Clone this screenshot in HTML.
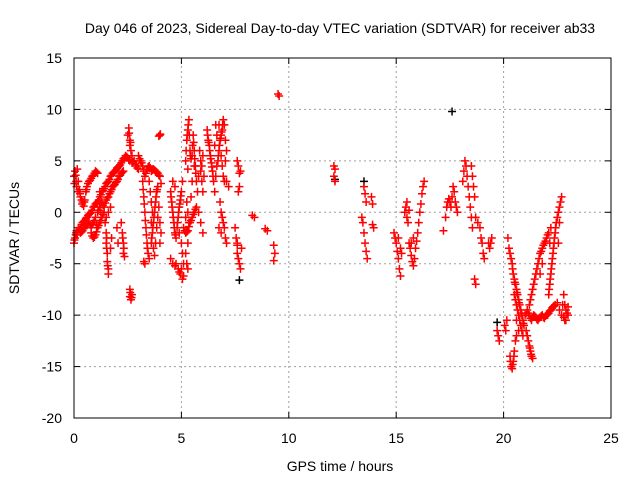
<!DOCTYPE html>
<html><head><meta charset="utf-8"><style>
body{margin:0;background:#fff;}
svg{display:block;font-family:"Liberation Sans",sans-serif;}
</style></head><body>
<svg id="chart" width="640" height="480">
<text x="340" y="33" text-anchor="middle" font-size="14">Day 046 of 2023, Sidereal Day-to-day VTEC variation (SDTVAR) for receiver ab33</text>
<text x="340" y="471" text-anchor="middle" font-size="14">GPS time / hours</text>
<text transform="translate(19,238) rotate(-90)" text-anchor="middle" font-size="14">SDTVAR / TECUs</text>
<g id="grid"></g><g id="ticks"></g><g id="marks"></g>
<rect x="74" y="58" width="537" height="360" fill="none" stroke="#000" stroke-width="1"/>
</svg>
<script>
const xTicks=[0,5,10,15,20,25];
const yTicks=[-20,-15,-10,-5,0,5,10,15];
const redPoints=[
[0,3.5],[0.05,4],[0.1,3],[0.15,4.2],[0.2,3],[0.25,2.2],[0.3,1.5],[0.35,1.2],[0.4,1],[0.45,0.6],[0.5,1.2],[0.55,2],[0.6,2.5],[0.7,3],[0.8,3.3],[0.9,3.6],[1.0,4],[1.1,3.8],[1.2,2],[1.25,0],
[0.02,2.8],[0.08,3.6],[0.12,2.5],[0.18,2],[0.28,1.8],[0.38,0.8],[0.48,1],[0.58,2.2],[0.65,2.8],[0.75,3.1],[0.85,3.5],[0.95,3.8],[1.05,3.9],
[0,-3],[0.05,-2.5],[0.1,-2],[0.15,-2.2],[0.2,-1.5],[0.3,-1.5],[0.4,-1],[0.5,-0.8],[0.6,-0.5],[0.7,-0.2],[0.8,0],[0.9,0.5],[1.0,0.8],[1.1,1],[1.2,1.5],[1.3,2],[1.4,2.3],[1.5,2.8],[1.6,3],[1.7,3.5],[1.8,3.8],[1.9,4],[2.0,4.3],[2.1,4.5],[2.2,4.8],[2.3,5.2],[2.4,5.5],[2.5,5.3],[2.6,5],[2.7,4.8],[2.8,5],[2.9,4.5],[3.0,4.2],
[0.02,-2.7],[0.08,-2.2],[0.12,-1.8],[0.25,-1.7],[0.35,-1.2],[0.45,-0.9],[0.55,-0.6],[0.65,-0.3],[0.75,-0.1],[0.85,0.2],[0.95,0.6],[1.05,0.9],[1.15,1.2],[1.25,1.7],[1.35,2.1],[1.45,2.5],[1.55,2.9],[1.65,3.2],[1.75,3.6],[1.85,3.9],[1.95,4.1],[2.05,4.4],[2.15,4.6],[2.25,5],[2.35,5.3],[2.45,5.4],[2.55,5.1],[2.75,4.9],[2.85,4.7],[2.95,4.3],
[0.3,-2],[0.4,-1.8],[0.5,-1.5],[0.6,-1.2],[0.7,-1],[0.8,-1.5],[0.9,-1],[1.0,-0.5],[1.05,-1.2],[1.1,0],[1.2,0.5],[1.3,1],[1.4,0.5],[1.5,1.2],[1.6,1.5],[1.7,2],[1.8,2.5],[1.9,2.7],[2.0,3],[2.1,3.5],[2.2,3.8],[2.3,4],
[0.35,-1.9],[0.45,-1.6],[0.55,-1.3],[0.65,-1.1],[0.75,-1.2],[0.85,-1.2],[0.95,-0.8],[1.15,0.2],[1.25,0.8],[1.35,0.7],[1.45,0.9],[1.55,1.4],[1.65,1.8],[1.75,2.2],[1.85,2.6],[1.95,2.9],[2.05,3.2],[2.15,3.6],[2.25,3.9],
[0.8,-2],[0.9,-2.5],[1.0,-2.2],[1.1,-1.5],[1.2,-1],[1.3,-0.5],[1.4,0],[1.5,-0.5],[1.6,0],[1.7,0.5],[0.85,-2.3],[0.95,-2.4],[1.05,-1.9],[1.15,-1.3],[1.25,-0.8],[1.35,-0.2],
[1.45,-1],[1.5,-2],[1.5,-3],[1.55,-4],[1.55,-4.8],[1.6,-5.5],[1.6,-6],[1.7,-3.5],[1.75,-2.5],[1.52,-2.5],[1.52,-3.5],[1.57,-5.2],
[2.2,-1],[2.25,-2],[2.3,-3],[2.3,-4],[2.35,-4.3],[2.0,-1.5],[2.05,-3],[2.27,-2.5],[2.32,-3.5],
[2.6,-7.5],[2.6,-8.2],[2.65,-8.5],[2.7,-8],[2.62,-7.8],[2.68,-8.3],
[2.5,7.5],[2.55,8.2],[2.6,7],[2.65,6],[2.7,5.5],[2.6,6.5],[2.57,7.7],[2.63,6.8],
[3.0,5.5],[3.1,5],[3.2,4.5],[3.3,3.5],[3.4,4.2],[3.5,4.5],[3.6,4],[3.7,4.2],[3.8,4],[3.9,3.8],[4.0,3.5],[4.05,2.8],
[3.05,5.2],[3.15,4.8],[3.25,4],[3.35,3.8],[3.45,4.4],[3.55,4.3],[3.65,4.1],[3.75,4.1],[3.85,3.9],[3.95,3.6],
[3.2,3],[3.25,1.5],[3.3,0],[3.35,-1.5],[3.4,-3],[3.45,-4],[3.5,-4.5],[3.3,-5],[3.25,-4.8],[3.22,2.2],[3.27,0.8],[3.32,-0.8],[3.37,-2.2],[3.42,-3.5],
[3.6,-3],[3.65,-2],[3.7,-1],[3.75,0],[3.8,1],[3.85,2],[3.9,2.5],[3.7,-3.5],[3.75,-4.2],[3.8,-3],[3.85,-1.5],[3.9,-0.5],[3.95,0.5],[4.0,-1],[4.05,-2],[4.0,-3],
[3.62,-2.5],[3.67,-1.5],[3.72,-0.5],[3.77,0.5],[3.82,1.5],[3.87,2.2],
[3.5,3],[3.55,2],[3.6,1],[3.65,0],[3.6,-1],
[4.0,7.5],[3.95,7.4],[4.02,7.6],
[4.5,2],[4.55,1],[4.6,0],[4.65,-1],[4.7,-2],[4.75,-2.5],[4.8,-1.5],[4.85,-0.5],[4.9,0.5],[4.95,1.2],[5.0,2],[5.05,3],[4.6,3],[4.7,2.5],
[4.52,1.5],[4.57,0.5],[4.62,-0.5],[4.67,-1.5],[4.72,-2.2],[4.82,-1],[4.87,0],[4.92,0.8],[4.97,1.6],
[4.9,-2],[5.0,-3],[5.05,-4],[5.1,-5],[5.0,-5.5],[4.85,-5.5],[4.75,-5],[4.6,-5],[4.5,-4.5],[4.95,-6],[5.05,-6.5],[5.1,-6.2],[4.9,-5.8],[4.7,-5.2],
[5.1,-1.5],[5.2,-2],[5.3,-1.8],[5.4,-1],[5.5,-0.5],[5.6,0],[5.7,0.5],[5.8,0],[5.9,-1],[6.0,-2],[5.3,-3],[5.2,-4],[5.25,-5],[5.3,-5.5],
[5.15,-1.8],[5.25,-1.9],[5.35,-1.4],[5.45,-0.8],[5.55,-0.2],[5.65,0.3],
[5.2,-0.5],[5.25,1],[5.3,0],[5.35,-1],[5.45,1.5],
[5.2,5],[5.25,7],[5.3,8],[5.35,9],[5.4,6],[5.45,5.2],[5.5,5.5],[5.55,7.5],[5.6,6],[5.65,4.5],[5.7,3],[5.75,2],[5.8,3.5],[5.9,4],[5.95,3],[6.0,2],[5.5,3],[5.6,4.5],[5.3,4.2],
[5.22,6],[5.27,7.5],[5.32,8.5],[5.37,7.5],[5.42,5.5],[5.52,6.5],[5.57,6.8],[5.62,5.2],[5.67,3.8],
[5.85,6],[5.9,5],[5.95,4.5],[6.0,5.5],[6.05,3.5],
[6.2,8],[6.25,7],[6.3,6.5],[6.35,5.5],[6.4,4.8],[6.45,4],[6.5,3],[6.55,2],[6.6,3.5],[6.65,4.5],[6.7,5],[6.75,6],[6.8,7],[6.85,7.5],[6.9,8],[6.95,9],[7.0,8.5],[7.05,7],[7.1,6],
[6.22,7.5],[6.27,6.8],[6.32,6],[6.37,5.2],[6.42,4.4],[6.47,3.5],[6.72,5.5],[6.77,6.5],[6.82,7.2],[6.87,7.8],[6.92,8.5],
[6.6,8.5],[6.65,7.5],[6.55,6.5],[6.75,8.5],[6.85,5.5],[6.9,4.5],[6.95,3.5],[7.0,3],[7.05,5],[7.1,3],[7.2,2.5],
[6.8,1],[6.85,0],[6.9,-0.5],[6.95,-1],[7.0,-1.5],[7.05,-2.5],[7.1,-3],[6.75,-1.5],[6.85,-2],
[7.6,5],[7.65,4.5],[7.7,3.8],[7.7,2.5],[7.65,2],[7.75,4],
[7.5,-1.5],[7.55,-2.5],[7.6,-3],[7.6,-4],[7.65,-4.5],[7.7,-5],[7.75,-5.5],[7.8,-3.5],[7.6,-3.2],
[8.3,-0.3],[8.4,-0.5],[8.9,-1.6],[9.0,-1.8],[9.3,-3.2],[9.35,-4],[9.3,-4.7],[9.5,11.5],[9.55,11.3],
[12.1,3.5],[12.15,4.2],[12.1,4.5],[12.15,3],[13.4,-0.5],[13.45,-1],[13.5,-2],[13.55,-3],[13.6,-3.8],[13.65,-4.5],[13.5,2.5],[13.55,1.8],[13.6,1],[13.9,-1.2],[13.95,-1.5],[13.85,1.5],[13.9,0.8],
[14.9,-2],[14.95,-2.5],[15.0,-3],[15.05,-3.8],[15.1,-4.5],[15.15,-5.5],[15.2,-6.2],[15.1,-2.5],[15.2,-3.5],[15.25,-4],
[15.4,0],[15.45,0.5],[15.5,-0.5],[15.55,-1],[15.6,0.2],[15.5,1],
[15.6,-3],[15.65,-3.5],[15.7,-4.2],[15.75,-4.8],[15.8,-5.2],[15.85,-4.5],[15.9,-3.5],[15.95,-2.8],[16.0,-2],[16.05,-1],[16.1,0],[16.15,0.8],[16.2,1.8],[16.25,2.5],[16.3,3],[15.8,-2.5],[15.7,-3],
[17.2,-1.8],[17.3,-0.5],[17.35,0.5],[17.4,1],[17.45,1.3],[17.5,1],[17.55,0.5],[17.6,1.5],[17.65,2.5],[17.7,2],[17.75,1],[17.8,0.5],[17.85,0],
[18.1,3],[18.15,4],[18.2,5],[18.25,4.5],[18.3,3.5],[18.35,2.5],[18.4,1.5],[18.45,0.5],[18.5,-0.5],[18.55,-1.5],[18.5,4.5],[18.55,3.5],[18.6,2.5],[18.65,1.5],
[18.7,-0.5],[18.8,-1],[18.9,-1.5],[18.95,-2.5],[19.0,-3],[19.05,-4],[19.1,-4.5],[19.3,-3],[19.35,-3.5],[19.4,-3],[19.45,-2.5],
[18.65,-6.5],[18.7,-7],
[19.7,-11.5],[19.75,-12],[19.8,-12.5],[20.05,-11],[20.1,-11.5],[20.15,-10.5],[20.2,-2.5],
[20.25,-3.5],[20.3,-4],[20.35,-4.5],[20.4,-5],[20.45,-6],[20.5,-6.5],[20.55,-7],[20.6,-7.5],[20.65,-8],[20.7,-8.5],[20.75,-9],[20.8,-9.5],[20.85,-10],[20.9,-10.5],[20.95,-11],[21.0,-10],[21.1,-9.5],[21.2,-10],[21.3,-10.5],[21.4,-10],[21.5,-10.2],[21.6,-10.5],[21.7,-10.2],[21.8,-10],[21.9,-10.3],[22.0,-10],[22.1,-9.8],[22.2,-9.5],[22.3,-9.2],[22.4,-9],[22.5,-8.8],[22.6,-9.5],[22.7,-10],[22.8,-10.2],[22.9,-9.5],
[20.42,-5.5],[20.52,-6.8],[20.62,-7.8],[20.72,-8.8],[20.82,-9.8],[20.92,-10.8],[21.05,-9.8],[21.15,-9.8],[21.25,-10.3],[21.35,-10.2],[21.45,-10.1],[21.55,-10.4],[21.65,-10.3],[21.75,-10.1],[21.85,-10.2],[21.95,-10.1],[22.05,-9.9],[22.15,-9.6],[22.25,-9.3],[22.35,-9.1],
[20.5,-8],[20.6,-9],[20.7,-10],[20.8,-11],[20.9,-12],[20.6,-10.5],[20.7,-11.5],[20.55,-8.5],[20.65,-9.5],[20.75,-10.5],[20.85,-11.5],
[20.3,-14],[20.35,-15],[20.4,-15.2],[20.45,-14.5],[20.5,-13.5],[20.55,-12.5],[20.6,-12],[20.32,-14.5],[20.42,-14.8],[20.48,-14],
[21.05,-11.5],[21.1,-12],[21.15,-12.5],[21.2,-13],[21.25,-13.5],[21.3,-14],[21.35,-14.2],[21.22,-13.2],[21.28,-13.8],
[21.2,-9],[21.3,-8],[21.4,-7],[21.5,-6],[21.6,-5],[21.7,-4],[21.8,-3.5],[21.9,-3],[22.0,-2.5],[22.1,-2],[22.2,-1.5],[22.15,-3],[21.8,-5],[21.7,-6],
[21.25,-8.5],[21.35,-7.5],[21.45,-6.5],[21.55,-5.5],[21.65,-4.5],[21.75,-3.8],[21.85,-3.2],[21.95,-2.8],[22.05,-2.2],
[22.1,-8],[22.15,-7],[22.2,-6],[22.25,-5],[22.3,-4],[22.35,-3],[22.4,-2],[22.45,-1],[22.5,-0.5],[22.55,0],[22.6,0.5],[22.65,1],[22.7,1.5],[22.6,-1],[22.55,-3],
[22.12,-7.5],[22.17,-6.5],[22.22,-5.5],[22.27,-4.5],[22.32,-3.5],[22.37,-2.5],[22.42,-1.5],
[22.8,-8],[22.85,-9],[22.9,-10.5],[23.0,-10],[23.0,-9.2],[22.75,-9],[22.95,-9.8],[22.85,-10.5]
];
const blackPoints=[[17.6,9.8],[7.7,-6.6],[19.7,-10.7],[12.15,3.2],[13.5,3]];

const X0=74,X1=611,Y0=418,Y1=58;
const xScale=h=>X0+(h-0)/25*(X1-X0);
const yScale=v=>Y0-(v+20)/35*(Y0-Y1);
const NS="http://www.w3.org/2000/svg";
const grid=document.getElementById('grid'),ticks=document.getElementById('ticks'),marks=document.getElementById('marks');
function mk(tag,attrs,parent){const e=document.createElementNS(NS,tag);for(const k in attrs)e.setAttribute(k,attrs[k]);parent.appendChild(e);return e;}
xTicks.forEach(t=>{const x=xScale(t);
 if(t>0&&t<25){const g=mk('line',{x1:x,x2:x,y1:Y0,y2:Y1,stroke:'#a0a0a0','stroke-dasharray':'2,3'},grid);
 
 }
 mk('line',{x1:x,x2:x,y1:Y0,y2:Y0-6,stroke:'#000'},ticks);mk('line',{x1:x,x2:x,y1:Y1,y2:Y1+6,stroke:'#000'},ticks);
 const l=mk('text',{x:x,y:443,'text-anchor':'middle','font-size':'14'},ticks);l.textContent=t;
 
 });
yTicks.forEach(t=>{const y=yScale(t);
 if(t>-20&&t<15){const g=mk('line',{x1:X0,x2:X1,y1:y,y2:y,stroke:'#a0a0a0','stroke-dasharray':'2,3'},grid);
 
 }
 mk('line',{x1:X0,x2:X0+6,y1:y,y2:y,stroke:'#000'},ticks);mk('line',{x1:X1,x2:X1-6,y1:y,y2:y,stroke:'#000'},ticks);
 const l=mk('text',{x:62,y:y+5,'text-anchor':'end','font-size':'14'},ticks);l.textContent=t;
 
 });
function plus(h,v,col,name){const x=xScale(h),y=yScale(v);
 const p=mk('path',{d:`M${x-4},${y}H${x+4}M${x},${y-4}V${y+4}`,stroke:col,'stroke-width':'1.5',fill:'none'},marks);
 
 }
blackPoints.forEach(p=>plus(p[0],p[1],'#000','sdtvar-point-black'));
redPoints.forEach(p=>plus(p[0],p[1],'#ff0000','sdtvar-point'));
</script>
</body></html>
